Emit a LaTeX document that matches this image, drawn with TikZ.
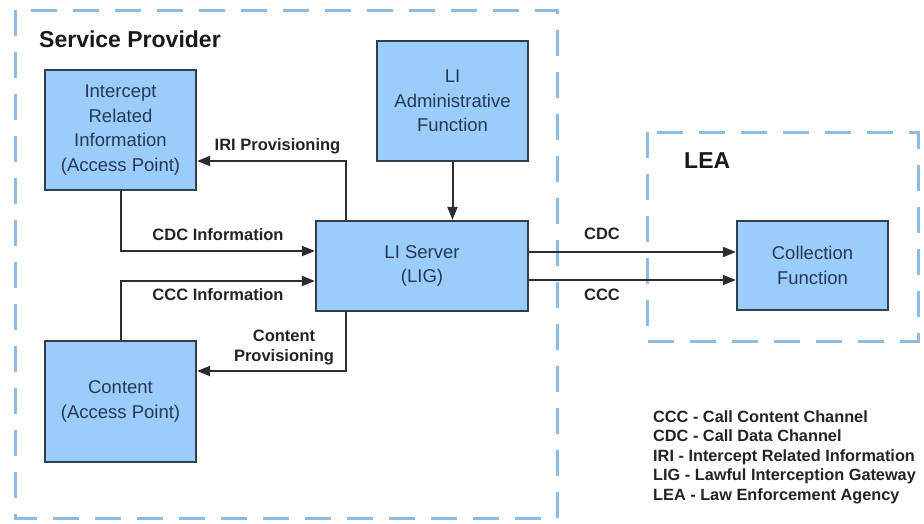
\documentclass[tikz,border=0pt]{standalone}
\usepackage{fontspec}
\setmainfont{Liberation Sans}
\usetikzlibrary{arrows.meta}
\definecolor{boxfill}{RGB}{155,205,250}
\definecolor{boxline}{RGB}{50,62,75}
\definecolor{boxtext}{RGB}{38,55,88}
\definecolor{dashblue}{RGB}{140,188,228}
\definecolor{linegray}{RGB}{45,45,45}
\definecolor{labeltext}{RGB}{35,35,35}
\tikzset{
  blockbox/.style={draw=boxline, fill=boxfill, line width=2.2pt, inner sep=0pt,
    align=center, text=boxtext, font=\fontsize{18.5}{24.5}\selectfont},
  regionbox/.style={draw=dashblue, line width=3pt, dash pattern=on 26pt off 16pt},
  conn/.style={draw=linegray, line width=2pt, -{Triangle[length=13pt,width=10pt]}},
  flowlabel/.style={text=labeltext, font=\fontsize{16.5}{20}\selectfont\bfseries, align=center, inner sep=0pt},
  titlelabel/.style={text=black!90, font=\fontsize{23}{27}\selectfont\bfseries, inner sep=0pt},
  legendline/.style={text=labeltext, font=\fontsize{16.3}{19.6}\selectfont\bfseries, inner sep=0pt, anchor=base west}
}
\begin{document}
\begin{tikzpicture}[x=1pt,y=-1pt]
\useasboundingbox (0,0) rectangle (924,523);
% regions
\draw[regionbox] (15,10) rectangle (557,518);
\draw[regionbox] (647,132) rectangle (918,341);
\node[titlelabel, anchor=base west] (sptitle) at (39,47) {Service Provider};
\node[titlelabel, anchor=base west] (leatitle) at (684,168) {LEA};
% blocks
\node[blockbox, minimum width=151pt, minimum height=120pt] (iri) at (120.5,130) {Intercept\\Related\\Information\\(Access Point)};
\node[blockbox, minimum width=151pt, minimum height=120pt] (adm) at (452.5,101) {LI\\Administrative\\Function};
\node[blockbox, minimum width=212pt, minimum height=90pt] (srv) at (422,266) {LI Server\\(LIG)};
\node[blockbox, minimum width=151pt, minimum height=121pt] (cnt) at (120.5,401.5) {Content\\(Access Point)};
\node[blockbox, minimum width=151pt, minimum height=89pt] (col) at (812.5,265.5) {Collection\\Function};
% helper coordinates
\coordinate (iprov) at (346,161);
\coordinate (cdci) at (121,251);
\coordinate (ccci) at (121,281);
\coordinate (cprov) at (346,371);
\coordinate (cdcy) at (0,252);
\coordinate (cccy) at (0,280);
% connectors
\draw[conn] (srv.north -| iprov) |- (iri.east |- iprov);
\draw[conn] (iri.south -| cdci) |- (srv.west |- cdci);
\draw[conn] (cnt.north -| ccci) |- (srv.west |- ccci);
\draw[conn] (srv.south -| cprov) |- (cnt.east |- cprov);
\draw[conn] (adm.south) -- (srv.north -| adm.south);
\draw[conn] (srv.east |- cdcy) -- (col.west |- cdcy);
\draw[conn] (srv.east |- cccy) -- (col.west |- cccy);
% labels
\node[flowlabel] (liprov) at (277.5,146) {IRI Provisioning};
\node[flowlabel] (lcdci) at (218,235) {CDC Information};
\node[flowlabel] (lccci) at (218,295) {CCC Information};
\node[flowlabel] (lcprov) at (284,347) {Content\\Provisioning};
\node[flowlabel] (lcdc) at (602,234) {CDC};
\node[flowlabel] (lccc) at (602,295) {CCC};
% legend
\node[legendline] (lg1) at (653,422) {CCC - Call Content Channel};
\node[legendline] (lg2) at (653,441.5) {CDC - Call Data Channel};
\node[legendline] (lg3) at (653,461) {IRI - Intercept Related Information};
\node[legendline] (lg4) at (653,480.5) {LIG - Lawful Interception Gateway};
\node[legendline] (lg5) at (653,500) {LEA - Law Enforcement Agency};
\end{tikzpicture}
\end{document}
